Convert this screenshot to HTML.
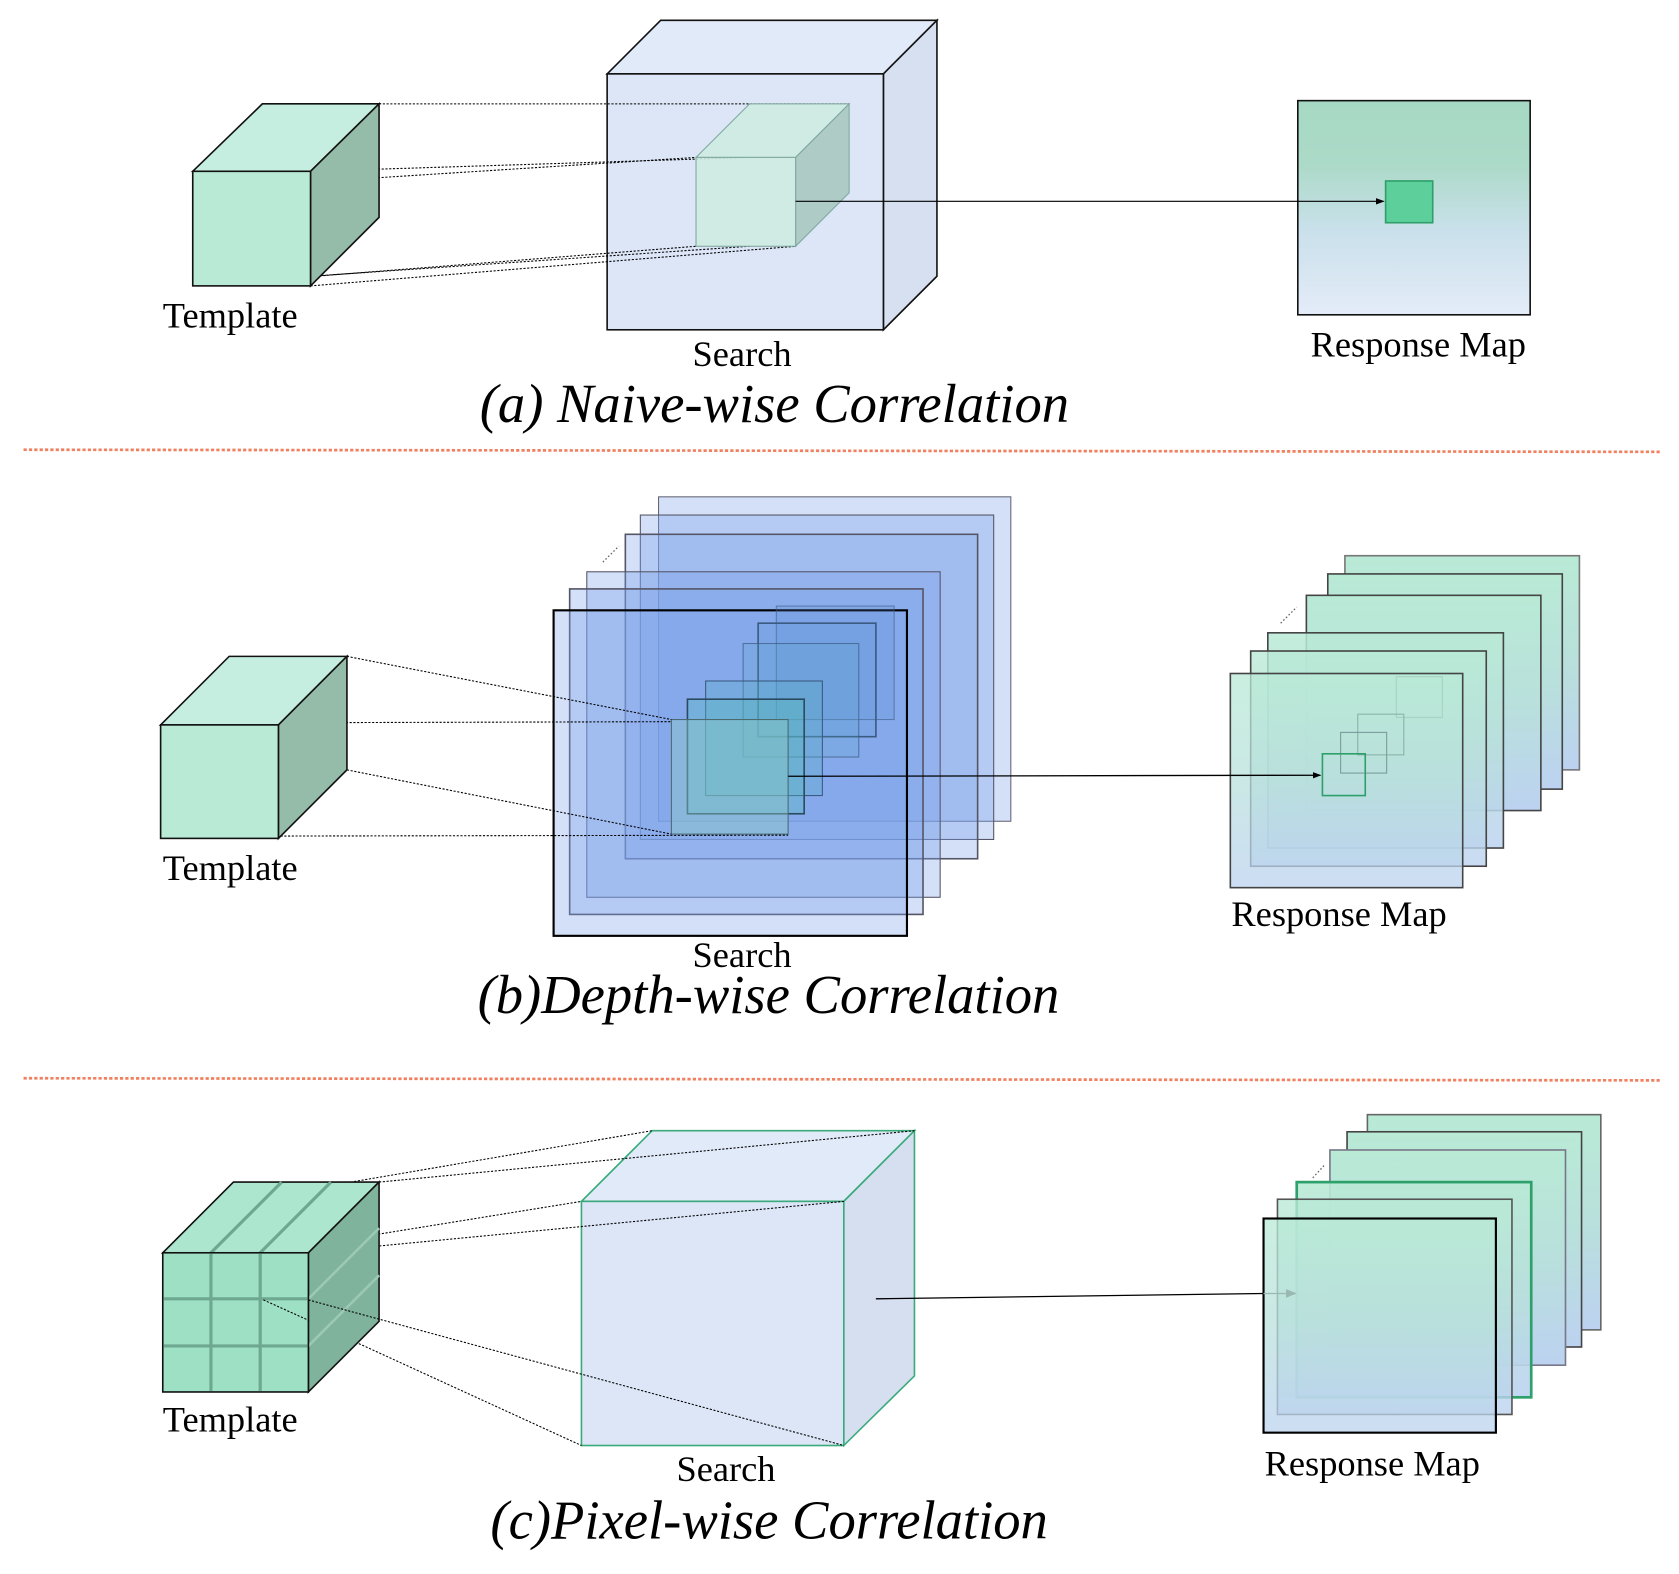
<!DOCTYPE html>
<html><head><meta charset="utf-8"><style>
html,body{margin:0;padding:0;background:#fff;}
svg{display:block;}
text{font-family:"Liberation Serif",serif;fill:#000;}
</style></head><body>
<svg width="1679" height="1574" viewBox="0 0 1568 1470" preserveAspectRatio="none" xmlns="http://www.w3.org/2000/svg">
<defs>
<linearGradient id="rm" x1="0" y1="0" x2="0" y2="1">
<stop offset="0" stop-color="#a6d9c4"/><stop offset="0.3" stop-color="#acdac8"/><stop offset="0.6" stop-color="#c9e0ea"/><stop offset="1" stop-color="#e4ecf9"/>
</linearGradient>
<linearGradient id="gb" x1="0" y1="0" x2="0" y2="1">
<stop offset="0" stop-color="#b9ead6"/><stop offset="0.5" stop-color="#b9e0dc"/><stop offset="1" stop-color="#bcd2f0"/>
</linearGradient>
<marker id="ar" markerWidth="8" markerHeight="8" refX="7" refY="4" orient="auto" markerUnits="userSpaceOnUse"><path d="M0,1 L8,4 L0,7 z" fill="#000"/></marker>
<marker id="arg" markerWidth="10" markerHeight="10" refX="9" refY="5" orient="auto" markerUnits="userSpaceOnUse"><path d="M0,1 L10,5 L0,9 z" fill="#9ab8b0"/></marker>
</defs>

<!-- ===== (a) ===== -->
<g stroke="#111" stroke-width="1.5">
<polygon points="567,69 617,19 875,19 825,69" fill="#e1eaf8"/>
<polygon points="825,69 875,19 875,258 825,308" fill="#d6e0f0"/>
<rect x="567" y="69" width="258" height="239" fill="#dce6f7"/>
</g>
<g stroke="#000" stroke-width="1" stroke-dasharray="2,1.5" fill="none">
<line x1="354" y1="97" x2="793" y2="97"/>
<line x1="290" y1="160" x2="700" y2="147"/>
<line x1="290" y1="170" x2="650" y2="147"/>
<line x1="180" y1="267" x2="650" y2="230"/>
<line x1="290" y1="267" x2="743" y2="230"/>
<line x1="290" y1="258" x2="700" y2="230"/>
</g>
<g stroke="#111" stroke-width="1.5">
<polygon points="180,160 245,97 354,97 290,160" fill="#c5ede0"/>
<polygon points="290,160 354,97 354,203 290,267" fill="#94bca8"/>
<rect x="180" y="160" width="110" height="107" fill="#b9ead6"/>
</g>
<g stroke="#7fa8a0" stroke-width="1">
<polygon points="650,147 700,97 793,97 743,147" fill="rgba(205,235,225,0.85)"/>
<polygon points="743,147 793,97 793,180 743,230" fill="rgba(170,200,192,0.9)"/>
<rect x="650" y="147" width="93" height="83" fill="rgba(205,235,225,0.9)"/>
</g>
<rect x="1212" y="94" width="217" height="200" fill="url(#rm)" stroke="#111" stroke-width="1.5"/>
<rect x="1294" y="169" width="44" height="39" fill="#5ccf9a" stroke="#2e9f6b" stroke-width="1.5"/>
<line x1="743" y1="188" x2="1292" y2="188" stroke="#000" stroke-width="1" marker-end="url(#ar)"/>
<text x="152" y="306" font-size="34">Template</text>
<text x="693" y="342" font-size="34" text-anchor="middle">Search</text>
<text x="1224" y="333" font-size="34">Response Map</text>
<text x="448" y="394" font-size="51" font-style="italic">(a) Naive-wise Correlation</text>
<line x1="22" y1="420" x2="1550" y2="422" stroke="#f08060" stroke-width="2.5" stroke-dasharray="3,2"/>

<!-- ===== (b) ===== -->
<g stroke="#333" stroke-width="1">
<rect x="615" y="464" width="329" height="303" fill="rgba(120,160,235,0.33)" stroke="#667"/>
<rect x="598" y="481" width="330" height="303" fill="rgba(120,160,235,0.33)" stroke="#556"/>
<rect x="584" y="499" width="329" height="303" fill="rgba(120,160,235,0.33)" stroke="#556" stroke-width="1.5"/>
<rect x="548" y="534" width="330" height="304" fill="rgba(120,160,235,0.33)" stroke="#556"/>
<rect x="532" y="550" width="330" height="304" fill="rgba(120,160,235,0.33)" stroke="#556" stroke-width="1.5"/>
<rect x="517" y="570" width="330" height="304" fill="rgba(120,160,235,0.33)" stroke="#000" stroke-width="2"/>
</g>
<line x1="563" y1="525" x2="578" y2="510" stroke="#666" stroke-width="1.2" stroke-dasharray="1.5,2"/>
<g stroke="#3a5a80" stroke-width="1" >
<rect x="725" y="566" width="110" height="106" fill="rgba(90,140,210,0.2)" stroke-opacity="0.6"/>
<rect x="708" y="582" width="110" height="106" fill="rgba(90,150,210,0.2)" stroke-width="1.5"/>
<rect x="694" y="601" width="108" height="106" fill="rgba(90,165,200,0.2)" stroke-opacity="0.7"/>
<rect x="659" y="636" width="109" height="107" fill="rgba(90,175,200,0.3)"/>
<rect x="642" y="653" width="109" height="107" fill="rgba(90,185,190,0.35)" stroke-width="1.5" stroke="#2a4a60"/>
<rect x="627" y="672" width="109" height="107" fill="rgba(140,200,200,0.45)" stroke="#4a6a70"/>
</g>
<g stroke="#000" stroke-width="1" stroke-dasharray="2,1.5" fill="none">
<line x1="324" y1="613" x2="627" y2="672"/>
<line x1="260" y1="675" x2="627" y2="674"/>
<line x1="324" y1="719" x2="627" y2="779"/>
<line x1="150" y1="781" x2="736" y2="780"/>
</g>
<g stroke="#111" stroke-width="1.5">
<polygon points="150,677 214,613 324,613 260,677" fill="#c5ede0"/>
<polygon points="260,677 324,613 324,719 260,783" fill="#94bca8"/>
<rect x="150" y="677" width="110" height="106" fill="#b9ead6"/>
</g>
<g stroke="#444" stroke-width="1.5">
<rect x="1256" y="519" width="219" height="200" fill="url(#gb)" stroke="#777"/>
<rect x="1240" y="536" width="219" height="201" fill="url(#gb)"/>
<rect x="1220" y="556" width="219" height="201" fill="url(#gb)"/>
<rect x="1184" y="591" width="220" height="201" fill="url(#gb)" fill-opacity="0.85"/>
<rect x="1168" y="608" width="220" height="201" fill="url(#gb)" fill-opacity="0.8"/>
<rect x="1149" y="629" width="217" height="200" fill="url(#gb)" fill-opacity="0.75"/>
</g>
<line x1="1196" y1="582" x2="1211" y2="567" stroke="#666" stroke-width="1.2" stroke-dasharray="1.5,2"/>
<g fill="none" stroke-width="1">
<rect x="1304" y="632" width="43" height="38" stroke="#aad0c0"/>
<rect x="1268" y="667" width="43" height="38" stroke="#8ab0a8"/>
<rect x="1252" y="684" width="43" height="38" stroke="#7a9a98"/>
<rect x="1235" y="704" width="40" height="39" stroke="#2e9f6b" stroke-width="1.5"/>
</g>
<line x1="736" y1="725" x2="1233" y2="724" stroke="#000" stroke-width="1.2" marker-end="url(#ar)"/>
<text x="152" y="822" font-size="34">Template</text>
<text x="693" y="903" font-size="34" text-anchor="middle">Search</text>
<text x="1150" y="865" font-size="34">Response Map</text>
<text x="446" y="946" font-size="51" font-style="italic">(b)Depth-wise Correlation</text>
<line x1="22" y1="1007" x2="1550" y2="1009" stroke="#f08060" stroke-width="2.5" stroke-dasharray="3,2"/>

<!-- ===== (c) ===== -->
<g stroke="#3aaa7a" stroke-width="1.5">
<polygon points="543,1122 609,1056 854,1056 788,1122" fill="#e1eaf8"/>
<polygon points="788,1122 854,1056 854,1285 788,1350" fill="#d5dff0"/>
<rect x="543" y="1122" width="245" height="228" fill="#dce6f7"/>
</g>
<g stroke="#000" stroke-width="1" stroke-dasharray="2,1.5" fill="none">
<line x1="310" y1="1107" x2="609" y2="1056"/>
<line x1="354" y1="1104" x2="854" y2="1056"/>
<line x1="246" y1="1170" x2="543" y2="1122"/>
<line x1="288" y1="1170" x2="788" y2="1122"/>
<line x1="288" y1="1214" x2="788" y2="1350"/>
<line x1="246" y1="1214" x2="543" y2="1350"/>
</g>
<g>
<polygon points="152,1170 218,1104 354,1104 288,1170" fill="#ade6cf" stroke="#111" stroke-width="1.5"/>
<line x1="197" y1="1170" x2="263" y2="1104" stroke="#6fa890" stroke-width="3"/>
<line x1="243" y1="1170" x2="309" y2="1104" stroke="#6fa890" stroke-width="3"/>
<polygon points="288,1170 354,1104 354,1234 288,1300" fill="#7fb39c" stroke="#111" stroke-width="1.5"/>
<line x1="288" y1="1213" x2="354" y2="1147" stroke="#9cc9b4" stroke-width="2.5"/>
<line x1="288" y1="1257" x2="354" y2="1191" stroke="#9cc9b4" stroke-width="2.5"/>
<rect x="152" y="1170" width="136" height="130" fill="#9ee0c4" stroke="#111" stroke-width="1.5"/>
<g stroke="#6fa890" stroke-width="3">
<line x1="197" y1="1171" x2="197" y2="1299"/><line x1="243" y1="1171" x2="243" y2="1299"/>
<line x1="153" y1="1213" x2="287" y2="1213"/><line x1="153" y1="1257" x2="287" y2="1257"/>
</g>
</g>
<g stroke="#000" stroke-width="1" stroke-dasharray="2,1.5" fill="none">
<line x1="246" y1="1214" x2="288" y2="1233"/>
<line x1="288" y1="1214" x2="354" y2="1232"/>
</g>
<g stroke="#444" stroke-width="1.5">
<rect x="1277" y="1041" width="218" height="201" fill="url(#gb)" stroke="#666"/>
<rect x="1258" y="1057" width="219" height="201" fill="url(#gb)"/>
<rect x="1242" y="1074" width="220" height="201" fill="url(#gb)" stroke="#778"/>
<rect x="1211" y="1104" width="219" height="201" fill="url(#gb)" fill-opacity="0.9" stroke="#2ea06b" stroke-width="2.5"/>
<rect x="1193" y="1120" width="219" height="201" fill="url(#gb)" fill-opacity="0.8" stroke="#555"/>
<rect x="1180" y="1138" width="217" height="200" fill="url(#gb)" fill-opacity="0.75" stroke="#000" stroke-width="2"/>
</g>
<line x1="1226" y1="1100" x2="1237" y2="1088" stroke="#666" stroke-width="1.2" stroke-dasharray="1.5,2"/>
<line x1="818" y1="1213" x2="1180" y2="1208" stroke="#000" stroke-width="1.2"/>
<line x1="1180" y1="1208" x2="1210" y2="1208" stroke="#9ab8b0" stroke-width="1.2" marker-end="url(#arg)"/>
<text x="152" y="1337" font-size="34">Template</text>
<text x="678" y="1383" font-size="34" text-anchor="middle">Search</text>
<text x="1181" y="1378" font-size="34">Response Map</text>
<text x="458" y="1437" font-size="51" font-style="italic">(c)Pixel-wise Correlation</text>
</svg>
</body></html>
